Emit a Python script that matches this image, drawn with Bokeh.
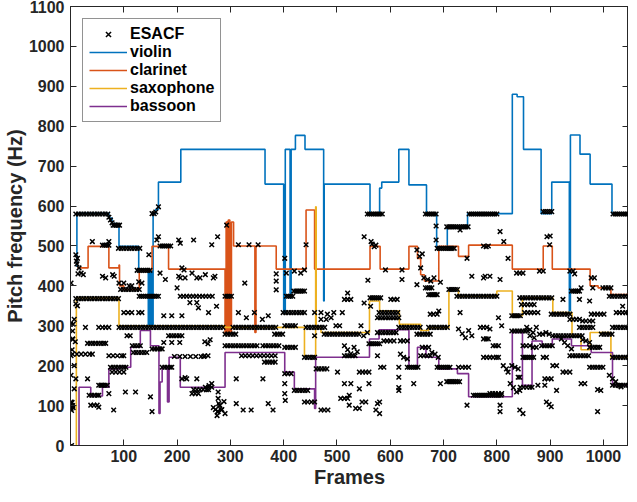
from bokeh.plotting import figure
from bokeh.models import LinearAxis, FixedTicker, Legend, LegendItem, Range1d
from bokeh.embed import file_html
from bokeh.resources import INLINE

# ---------------- data ----------------
x_ticks = [100, 200, 300, 400, 500, 600, 700, 800, 900, 1000]
y_ticks = [0, 100, 200, 300, 400, 500, 600, 700, 800, 900, 1000, 1100]
x_label = "Frames"
y_label = "Pitch frequency (Hz)"

# step lines: (frame where the value starts, pitch Hz)
violin_steps = [(10, 450), (12, 582), (72, 570), (78, 556), (86, 552), (91, 499), (128, 440),
                (146, 300), (149, 440), (152, 300), (155, 581), (160, 592), (165, 660),
                (207, 742), (365, 655), (400, 333), (403, 742), (412, 370), (414, 742),
                (422, 777), (440, 742), (475, 362), (476, 655), (562, 581), (580, 645),
                (584, 660), (616, 742), (635, 653), (668, 581), (687, 498), (707, 548),
                (745, 581), (829, 880), (838, 874), (850, 742), (883, 581), (903, 660),
                (936, 337), (938, 778), (956, 730), (975, 655), (1016, 581), (1048, 581)]
clarinet_steps = [(13, 445), (33, 499), (72, 445), (91, 452), (92, 400), (100, 391), (129, 440),
                  (153, 499), (184, 442), (290, 280), (292, 560), (294, 280), (296, 565),
                  (299, 280), (302, 560), (306, 500), (346, 283), (348, 500), (386, 442),
                  (442, 590), (458, 442), (562, 499), (581, 442), (635, 499), (651, 469),
                  (657, 428), (664, 412), (691, 499), (728, 474), (747, 502), (829, 442),
                  (887, 500), (904, 442), (975, 400), (990, 395), (1014, 378), (1048, 378)]
saxophone_steps = [(10, 0), (11, 370), (91, 300), (290, 296), (439, 225), (460, 598), (461, 296),
                   (470, 283), (561, 362), (580, 337), (617, 304), (657, 288), (672, 295),
                   (710, 391), (728, 374), (800, 387), (829, 325), (848, 370), (905, 333),
                   (941, 275), (958, 240), (975, 283), (1014, 221), (1048, 221)]
bassoon_steps = [(15, 0), (16, 146), (38, 124), (60, 146), (72, 192), (91, 196), (113, 246),
                 (131, 288), (150, 250), (166, 80), (168, 159), (172, 196), (182, 109),
                 (185, 221), (206, 146), (290, 233), (402, 184), (420, 142), (458, 93),
                 (460, 221), (561, 267), (579, 290), (635, 200), (651, 246), (667, 221),
                 (691, 192), (726, 180), (747, 122), (829, 283), (848, 151), (866, 262),
                 (885, 250), (904, 267), (940, 250), (977, 233), (1017, 151), (1048, 151)]

# ESACF estimates: rows of (pitch Hz, frames read at that pitch)
esacf_rows_high = [
    (580, [10, 15, 20, 25, 30, 35, 40, 45, 50, 55, 60, 65, 70]),
    (552, [80, 83, 86, 89, 92]),
    (494, [90, 95, 100, 105, 110, 115, 120, 125, 130]),
    (502, [60, 64, 68, 72]),
    (500, [168, 172, 176, 180, 184, 188]),
    (580, [557, 561, 565, 569, 573, 577, 581, 585]),
    (580, [666, 670, 674, 678, 682, 686]),
    (494, [688, 692, 696, 700, 704, 708, 712, 716, 720]),
    (548, [706, 710, 714, 718, 722, 726, 730, 734, 738, 742, 746]),
    (580, [748, 752, 756, 760, 764, 768, 772, 776, 780, 784, 788, 792, 796, 800]),
    (586, [887, 891, 895, 899, 903]),
    (580, [1018, 1022, 1026, 1030, 1034, 1038, 1042, 1046]),
]
esacf_rows_mid = [
    (439, [125, 129, 133, 137, 141, 145, 149]),
    (374, [129, 133, 137, 141, 145, 149, 153, 157, 161, 165]),
    (368, [10, 15, 20, 25, 30, 35, 40, 45, 50, 55, 60, 65, 70, 75, 80, 85, 90]),
    (296, [91, 96, 101, 106, 111, 116, 121, 126, 131, 136, 141, 146, 151, 156, 161, 166, 171,
           176, 181, 186, 191, 196, 201, 206, 211, 216, 221, 226, 231, 236, 241, 246, 251,
           256, 261, 266, 271, 276, 281, 286]),
    (391, [94, 99, 104, 109, 114, 119, 124, 129]),
    (374, [290, 294, 298, 302]),
    (296, [305, 310, 315, 320, 325, 330, 335, 340, 345, 350, 355, 360, 365, 370, 375, 380, 385]),
    (279, [383, 388, 393, 398]),
    (300, [402, 407, 412, 417, 422]),
    (387, [419, 423, 427, 431, 435, 439]),
    (374, [405, 409, 413, 417]),
    (333, [399, 404, 409, 414, 419, 424, 429, 434, 439]),
    (296, [442, 447, 452, 457, 462, 467, 472, 477]),
    (279, [476, 481, 486, 491, 496, 501, 506, 511, 516, 521, 526, 531, 536, 541]),
    (279, [290, 295, 300, 305, 310]),
    (370, [562, 566, 570, 574, 578, 582]),
    (333, [579, 584, 589, 594, 599, 604, 609, 614]),
    (320, [576, 581, 586, 591, 596, 601, 606, 611, 616]),
    (283, [576, 581, 586, 591, 596, 601, 606, 611]),
    (296, [616, 621, 626, 631, 636, 641, 646, 651, 656]),
    (279, [650, 655, 660, 665, 670, 675]),
    (296, [672, 677, 682, 687, 692, 697, 702, 707]),
    (395, [666, 670, 674, 678]),
    (378, [672, 676, 680, 684, 688]),
    (391, [710, 714, 718, 722, 726]),
    (374, [725, 730, 735, 740, 745, 750, 755, 760, 765, 770, 775, 780, 785, 790, 795, 800]),
    (370, [843, 848, 853, 858, 863, 868, 873, 878, 883, 888, 893, 898, 903]),
    (325, [828, 832, 836, 840, 844]),
    (329, [902, 907, 912, 917, 922, 927, 932, 937]),
    (374, [1011, 1016, 1021, 1026, 1031, 1036, 1041, 1046]),
    (287, [828, 833, 838, 843, 848, 853, 858]),
    (275, [905, 910, 915, 920, 925, 930, 935, 940, 945, 950, 955, 960]),
    (279, [996, 1001, 1006, 1011, 1016]),
    (296, [1017, 1022, 1027, 1032, 1037, 1042, 1047]),
    (296, [955, 960, 965, 970, 975, 980]),
    (395, [999, 1004, 1009, 1014]),
    (387, [940, 944, 948, 952, 955]),
    (374, [206, 212, 218, 224, 230, 236, 242, 248, 254, 260, 266]),
    (275, [184, 189, 194, 199, 204, 209]),
    (329, [977, 983, 989, 995, 1001]),
    (333, [1024, 1030, 1036, 1042, 1047]),
    (353, [846, 852, 858, 864, 870]),
    (333, [852, 858, 864, 870, 877]),
    (312, [961, 967, 974, 980]),
    (316, [937, 943, 949, 955]),
    (366, [514, 520, 526]),
    (366, [601, 607, 613]),
    (329, [675, 681, 688]),
    (296, [53, 60, 66, 72]),
    (333, [100, 108, 115, 128, 134]),
]
esacf_rows_low = [
    (250, [290, 295, 300, 305, 310, 315, 320, 325, 330, 335, 340, 345, 350]),
    (250, [361, 366, 371, 376, 381, 386, 391]),
    (246, [402, 407, 412, 417, 422]),
    (221, [439, 444, 449, 454, 458]),
    (192, [461, 466, 471, 476, 481]),
    (225, [321, 328, 335, 342, 349, 356, 363, 370, 377, 384]),
    (209, [364, 369, 374, 379, 384]),
    (138, [420, 425, 430, 435, 440, 445]),
    (255, [560, 564, 568, 572, 576, 580]),
    (225, [514, 519, 524, 529, 534]),
    (196, [632, 636, 640, 644, 648, 652]),
    (196, [688, 692, 696, 700, 704, 708, 712]),
    (160, [706, 710, 714, 718, 722, 726, 730]),
    (126, [756, 760, 764, 768, 772, 776, 780, 784, 788, 792, 796, 800, 804, 808]),
    (246, [974, 979, 984, 989, 993]),
    (250, [884, 889, 894, 899, 904]),
    (225, [937, 942, 947, 952, 957, 962, 967, 972]),
    (221, [1017, 1022, 1027, 1032, 1037, 1042, 1047]),
    (196, [974, 979, 984, 989, 994, 999]),
    (151, [1017, 1022, 1027, 1032, 1037, 1042, 1047]),
    (256, [32, 37, 42, 47, 52, 57, 62, 66]),
    (126, [35, 40, 45, 50, 53]),
    (151, [53, 57, 61, 65, 69]),
    (196, [75, 80, 85, 90, 95, 100, 104]),
    (242, [153, 158, 163, 168, 172]),
    (250, [116, 121, 126, 131]),
    (233, [118, 123, 128, 133, 138, 143]),
    (196, [172, 177, 182, 187, 190]),
    (140, [231, 237, 243, 249, 255, 259]),
    (221, [849, 853, 857, 861, 865, 869]),
    (146, [844, 850, 856, 862, 866]),
    (229, [4, 12, 20, 28, 36, 41]),
    (225, [72, 80, 88, 96, 100]),
    (184, [78, 85, 92, 100]),
    (262, [588, 594, 600, 607, 619, 625, 632]),
    (246, [660, 666, 672]),
    (225, [657, 663, 669, 675]),
    (196, [728, 735, 741, 747]),
    (184, [542, 548, 554, 560]),
    (221, [775, 781, 787, 793, 799, 803]),
    (250, [793, 798, 803, 849, 855, 862]),
    (130, [787, 792, 797, 803, 809]),
    (109, [439, 445, 452, 458]),
    (89, [470, 476, 483]),
    (118, [507, 514, 520]),
    (180, [402, 408, 414]),
    (223, [195, 205, 215, 225, 235, 245, 250]),
]
esacf_single = [
    (1, 407), (10, 478), (13, 469), (16, 445), (7, 316), (4, 287), (4, 266), (1, 225), (1, 176),
    (7, 142), (1, 109), (1, 93), (2, 0), (4, 100), (2, 88), (5, 95), (7, 200), (3, 240), (9, 260),
    (12, 455), (11, 462), (14, 430), (20, 432), (24, 428), (0, 304), (5, 304), (13, 350), (10, 355),
    (4, 267), (28, 296), (72, 572), (75, 565), (78, 558), (41, 511), (72, 511), (153, 581),
    (157, 581), (160, 585), (165, 598), (165, 523), (162, 515), (147, 478), (203, 515), (206, 507),
    (231, 515), (265, 503), (276, 523), (293, 552), (315, 503), (335, 503), (352, 503), (442, 503),
    (551, 523), (564, 511), (686, 550), (686, 515), (731, 540), (806, 536), (813, 511), (894, 523),
    (900, 525), (899, 503), (566, 505), (570, 498), (573, 502), (650, 490), (655, 474), (660, 480),
    (744, 469), (775, 500), (780, 498), (784, 500), (821, 469),
    (60, 424), (79, 428), (82, 424), (66, 420), (91, 407), (100, 407), (110, 400), (115, 400),
    (134, 407), (128, 410), (168, 432), (178, 416), (206, 420), (215, 420), (237, 420), (243, 420),
    (224, 358), (237, 358), (240, 345), (175, 325), (190, 325), (209, 325), (106, 275), (112, 275),
    (175, 258), (190, 258), (205, 258), (10, 167), (32, 167), (209, 167), (218, 167), (237, 167),
    (58, 151), (103, 134), (122, 134), (72, 130), (150, 122), (153, 85), (81, 89), (38, 101),
    (44, 101), (50, 101), (53, 96), (0, 100), (3, 108),
    (203, 424), (209, 445), (213, 440), (228, 432), (253, 428), (271, 424), (327, 407), (200, 395),
    (215, 170), (228, 130), (234, 130), (240, 130), (253, 146), (259, 146), (265, 146), (268, 95),
    (272, 90), (276, 85), (280, 100), (284, 90), (288, 110), (290, 80), (275, 75), (278, 105),
    (386, 430), (386, 412), (386, 390), (402, 469), (405, 432), (420, 437), (432, 432), (439, 440),
    (274, 349), (268, 420), (259, 333), (315, 333), (330, 320), (345, 333), (360, 316), (371, 325),
    (458, 333), (470, 333), (482, 329), (494, 333), (510, 333), (470, 316), (480, 316), (489, 320),
    (458, 275), (498, 300), (505, 300), (252, 225), (258, 225), (265, 155), (260, 150), (252, 260),
    (258, 255), (262, 265), (277, 134), (277, 118), (280, 101), (283, 89), (277, 85), (311, 167),
    (311, 105), (324, 89), (339, 89), (361, 167), (371, 105), (380, 89), (402, 155), (402, 130),
    (403, 113), (501, 184), (514, 155),
    (591, 440), (622, 440), (622, 416), (657, 445), (663, 420), (670, 416), (676, 412), (682, 420),
    (650, 403), (694, 409), (558, 414), (753, 424), (775, 420), (520, 382), (551, 357), (563, 349),
    (731, 333), (691, 337), (545, 300), (550, 275), (557, 283), (728, 292), (735, 280), (741, 270),
    (747, 288), (753, 275), (769, 296), (775, 296), (781, 296), (514, 250), (520, 240), (526, 230),
    (532, 246), (538, 235), (678, 233), (684, 229), (690, 221), (619, 229), (625, 221), (632, 217),
    (576, 225), (582, 196), (588, 196), (616, 196), (616, 171), (616, 145), (616, 138), (644, 155),
    (694, 155), (526, 155), (542, 142), (560, 155), (523, 126), (547, 109), (535, 93), (523, 101),
    (576, 105), (580, 109), (573, 89), (580, 80), (554, 109), (542, 93), (744, 101),
    (837, 432), (843, 432), (849, 432), (880, 437), (887, 437), (937, 437), (943, 437), (946, 430),
    (977, 420), (983, 420), (980, 395), (778, 424), (787, 424), (806, 416), (958, 395), (955, 366),
    (974, 362), (924, 366), (1036, 349), (803, 320), (809, 300), (787, 292), (921, 267), (927, 258),
    (933, 250), (940, 242), (961, 265), (967, 262), (974, 258), (775, 267), (780, 267), (784, 267),
    (868, 246), (874, 246), (887, 221), (893, 221), (905, 200), (912, 200), (924, 184), (930, 184),
    (937, 184), (828, 200), (834, 196), (840, 192), (812, 200), (818, 192), (821, 184), (840, 171),
    (843, 171), (825, 155), (831, 145), (837, 134), (843, 138), (890, 167), (896, 167), (902, 167),
    (877, 151), (890, 151), (912, 138), (958, 155), (965, 155), (989, 140), (995, 138), (1011, 176),
    (1017, 167), (1023, 160), (1029, 150), (1033, 147), (806, 101), (806, 85), (843, 89), (849, 80),
    (893, 109), (898, 103), (902, 97), (989, 85),
    (856, 296), (862, 290), (868, 283), (874, 296), (880, 279), (886, 279), (892, 283), (898, 279),
    (870, 270), (862, 275),
]

# ---------------- assemble ----------------
esacf_frames, esacf_hz = [], []
for rows in (esacf_rows_high, esacf_rows_mid, esacf_rows_low):
    for hz, frames in rows:
        for f in frames:
            esacf_frames.append(f)
            esacf_hz.append(hz)
for f, hz in esacf_single:
    esacf_frames.append(f)
    esacf_hz.append(hz)

FONT = "Liberation Sans"
DARK = "#262626"
X_MAX = 1047

p = figure(width=628, height=486, x_range=Range1d(0, X_MAX), y_range=Range1d(0, 1100),
           output_backend="svg", toolbar_location=None,
           title=x_label, title_location="below",
           min_border_left=66, min_border_right=0, min_border_top=6, min_border_bottom=0)
p.background_fill_color = "white"
p.border_fill_color = "white"
p.grid.visible = False
p.outline_line_color = DARK
p.outline_line_width = 1

# x-axis title (drawn as the plot title below the axis)
p.title.align = "center"
p.title.text_font = FONT
p.title.text_font_style = "bold"
p.title.text_font_size = "20px"
p.title.text_color = DARK
p.title.standoff = -2
p.title.offset = 0

def style_axis(ax, ticks, labels=True):
    ax.ticker = FixedTicker(ticks=ticks)
    ax.major_tick_in = 6
    ax.major_tick_out = 0
    ax.minor_tick_in = 0
    ax.minor_tick_out = 0
    ax.axis_line_color = DARK
    ax.major_tick_line_color = DARK
    ax.major_tick_line_width = 1
    if labels:
        ax.major_label_text_font = FONT
        ax.major_label_text_font_style = "bold"
        ax.major_label_text_font_size = "16px"
        ax.major_label_text_color = DARK
        ax.axis_label_text_font = FONT
        ax.axis_label_text_font_style = "bold"
        ax.axis_label_text_font_size = "20px"
        ax.axis_label_text_color = DARK
    else:
        ax.major_label_text_font_size = "1px"
        ax.major_label_text_color = None
        ax.major_label_standoff = 0

xa = p.xaxis[0]
style_axis(xa, x_ticks)
xa.major_label_standoff = 4

ya = p.yaxis[0]
style_axis(ya, y_ticks)
ya.axis_label = y_label
ya.major_label_standoff = 6
ya.axis_label_standoff = 0

top_axis = LinearAxis()
style_axis(top_axis, x_ticks, labels=False)
p.add_layout(top_axis, "above")
right_axis = LinearAxis()
style_axis(right_axis, y_ticks, labels=False)
p.add_layout(right_axis, "right")

colors = {"violin": "#0072BD", "clarinet": "#D95319", "saxophone": "#EDB120", "bassoon": "#7E2F8E"}
line_renderers = {}
for name, steps in (("violin", violin_steps), ("clarinet", clarinet_steps),
                    ("saxophone", saxophone_steps), ("bassoon", bassoon_steps)):
    xs = [s[0] for s in steps]
    ys = [s[1] for s in steps]
    line_renderers[name] = p.step(xs, ys, mode="after", line_color=colors[name], line_width=1.6)

r_esacf = p.scatter(esacf_frames, esacf_hz, marker="x", size=6.5, line_color="black", line_width=1.5)

legend = Legend(items=[
    LegendItem(label="ESACF", renderers=[r_esacf]),
    LegendItem(label="violin", renderers=[line_renderers["violin"]]),
    LegendItem(label="clarinet", renderers=[line_renderers["clarinet"]]),
    LegendItem(label="saxophone", renderers=[line_renderers["saxophone"]]),
    LegendItem(label="bassoon", renderers=[line_renderers["bassoon"]]),
], location="top_left")
legend.label_text_font = FONT
legend.label_text_font_style = "bold"
legend.label_text_font_size = "16px"
legend.label_text_color = "black"
legend.border_line_color = DARK
legend.border_line_width = 1
legend.background_fill_color = "white"
legend.background_fill_alpha = 1
legend.glyph_width = 38
legend.glyph_height = 18
legend.label_height = 18
legend.spacing = 0
legend.padding = 6
legend.margin = 12
legend.label_standoff = 3
p.add_layout(legend)

open("out.html", "w").write(file_html(p, INLINE))
